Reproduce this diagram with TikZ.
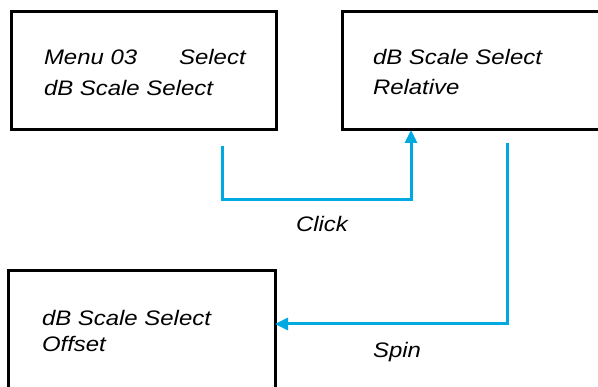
\documentclass[tikz,border=0pt]{standalone}
\usepackage{fontspec}
\newfontfamily\lab[FakeStretch=1.14]{Liberation Sans}
\usetikzlibrary{arrows.meta}
\definecolor{flow}{RGB}{0,169,224}
\begin{document}
\begin{tikzpicture}[x=1pt,y=-1pt,
  box/.style={draw=black,line width=3pt,rectangle,inner sep=0pt,outer sep=0pt},
  lbl/.style={inner sep=0pt,outer sep=0pt,font=\lab\itshape\fontsize{21}{25}\selectfont,text=black},
  link/.style={draw=flow,line width=3pt,-{Triangle[length=13pt,width=12pt]}}]
\useasboundingbox (0,0) rectangle (598,387);
\clip (0,0) rectangle (598,387);
% boxes
\node[box,minimum width=265pt,minimum height=118pt] (b1) at (143.5,71) {};
\node[box,minimum width=268pt,minimum height=118pt] (b2) at (476,71) {};
\node[box,minimum width=267pt,minimum height=124pt] (b3) at (141.5,333) {};
% texts
\node[lbl,anchor=base west] (t1a) at (44,65) {Menu 03\hspace{42pt}Select};
\node[lbl,anchor=base west] (t1b) at (44,96) {dB Scale Select};
\node[lbl,anchor=base west] (t2a) at (373,65) {dB Scale Select};
\node[lbl,anchor=base west] (t2b) at (373,95) {Relative};
\node[lbl,anchor=base west] (t3a) at (42,326) {dB Scale Select};
\node[lbl,anchor=base west] (t3b) at (42,352) {Offset};
\node[lbl,anchor=base] (click) at (322,232) {Click};
\node[lbl,anchor=base] (spin) at (397,358) {Spin};
% connectors
\coordinate (s1) at (222,146);
\coordinate (c1) at (222,200);
\coordinate (s2) at (507,143);
\path[link] (s1) -- (c1) -| (b2.south -| 411,0);
\coordinate (c2) at (507,324);
\path[link] (s2) -- (c2) -- (b3.east |- c2);
\end{tikzpicture}
\end{document}
